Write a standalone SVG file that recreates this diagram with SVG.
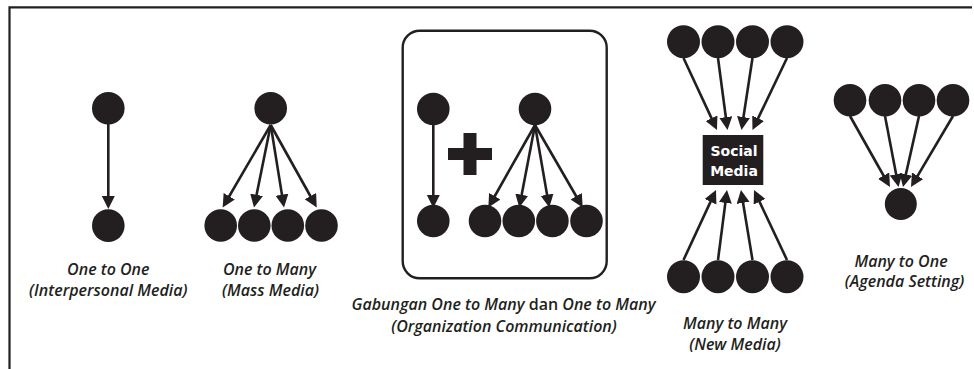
<svg xmlns="http://www.w3.org/2000/svg" width="974" height="369" viewBox="0 0 974 369">
<defs>
<style>
.n{fill:#231f20}
.c line{stroke:#231f20;stroke-width:2.6;marker-end:url(#ah)}
.cap{font-family:"Open Sans","Liberation Sans",sans-serif;font-style:italic;font-weight:600;font-size:16px;fill:#231f20;text-anchor:middle}
.up{font-style:normal}
.sm{font-family:"DejaVu Sans",Verdana,sans-serif;font-weight:bold;font-size:14px;fill:#fff;text-anchor:middle}
</style>
<marker id="ah" markerUnits="userSpaceOnUse" markerWidth="14" markerHeight="14" refX="9" refY="6.5" orient="auto">
<path d="M0,0 L13,6.5 L0,13 Z" fill="#231f20"/>
</marker>
</defs>
<rect width="974" height="369" fill="#fff"/>
<path d="M9.5,369 V7.3 H972" fill="none" stroke="#231f20" stroke-width="2.2"/>

<g id="connectors" class="c">
<line x1="108.3" y1="124" x2="108.3" y2="205"/>
<line x1="270.7" y1="125" x2="224.7" y2="204"/>
<line x1="270.7" y1="125" x2="254.8" y2="203.6"/>
<line x1="270.7" y1="125" x2="283.4" y2="203.6"/>
<line x1="270.7" y1="125" x2="314.8" y2="204"/>
<line x1="433.3" y1="125" x2="433.3" y2="204"/>
<line x1="535" y1="125" x2="490.3" y2="204"/>
<line x1="535" y1="125" x2="520" y2="203.6"/>
<line x1="535" y1="125" x2="548.6" y2="203.6"/>
<line x1="535" y1="125" x2="580.7" y2="204"/>
<line x1="683.5" y1="58" x2="715.3" y2="126.4"/>
<line x1="718" y1="58" x2="727" y2="126"/>
<line x1="752.5" y1="58" x2="742.1" y2="126"/>
<line x1="787" y1="58" x2="754.2" y2="126.4"/>
<line x1="683.5" y1="260" x2="714.3" y2="193.6"/>
<line x1="718" y1="260" x2="726.5" y2="194"/>
<line x1="752.5" y1="260" x2="741.6" y2="194"/>
<line x1="787" y1="260" x2="755.7" y2="193.6"/>
<line x1="850" y1="116" x2="888" y2="183.5"/>
<line x1="885" y1="116" x2="897.8" y2="183.1"/>
<line x1="919" y1="116" x2="903.9" y2="183.1"/>
<line x1="953" y1="116" x2="913" y2="183.6"/>
</g>

<g id="one-to-one">
<circle class="n" cx="108.3" cy="108.3" r="16.3"/>
<circle class="n" cx="108.3" cy="225.6" r="16.3"/>
<text class="cap" x="108.3" y="275">One to One</text>
<text class="cap" x="108.3" y="296">(Interpersonal Media)</text>
</g>

<g id="one-to-many">
<circle class="n" cx="270.7" cy="108.3" r="16.3"/>
<circle class="n" cx="220.7" cy="225.5" r="16.3"/>
<circle class="n" cx="254.3" cy="225.5" r="16.3"/>
<circle class="n" cx="287.8" cy="225.5" r="16.3"/>
<circle class="n" cx="321.5" cy="225.5" r="16.3"/>
<text class="cap" x="269.5" y="275">One to Many</text>
<text class="cap" x="270.5" y="296">(Mass Media)</text>
</g>

<g id="organization">
<rect x="402.7" y="30.7" width="204" height="247.6" rx="17" fill="none" stroke="#231f20" stroke-width="2.4"/>
<circle class="n" cx="433.3" cy="109" r="16.3"/>
<circle class="n" cx="433.3" cy="221" r="16.3"/>
<path class="n" d="M448,148 H463.5 V133 H476.5 V148 H492 V160 H476.5 V175 H463.5 V160 H448 Z"/>
<circle class="n" cx="535" cy="109" r="16.3"/>
<circle class="n" cx="485" cy="221" r="16.3"/>
<circle class="n" cx="518.8" cy="221" r="16.3"/>
<circle class="n" cx="552.4" cy="221" r="16.3"/>
<circle class="n" cx="586.5" cy="221" r="16.3"/>
<text class="cap" x="503.5" y="309.5">Gabungan One to Many<tspan class="up"> dan </tspan>One to Many</text>
<text class="cap" x="504" y="331.5">(Organization Communication)</text>
</g>

<g id="many-to-many">
<circle class="n" cx="683.5" cy="41.7" r="16.5"/>
<circle class="n" cx="718" cy="41.7" r="16.5"/>
<circle class="n" cx="752.5" cy="41.7" r="16.5"/>
<circle class="n" cx="787" cy="41.7" r="16.5"/>
<rect class="n" x="702.7" y="135" width="60.6" height="50"/>
<text class="sm" x="734" y="155.5">Social</text>
<text class="sm" x="734" y="175.5">Media</text>
<circle class="n" cx="683.5" cy="276.7" r="16.5"/>
<circle class="n" cx="718" cy="276.7" r="16.5"/>
<circle class="n" cx="752.5" cy="276.7" r="16.5"/>
<circle class="n" cx="787" cy="276.7" r="16.5"/>
<text class="cap" x="735" y="328.5">Many to Many</text>
<text class="cap" x="735" y="350">(New Media)</text>
</g>

<g id="many-to-one">
<circle class="n" cx="850" cy="100.3" r="16.3"/>
<circle class="n" cx="885" cy="100.3" r="16.3"/>
<circle class="n" cx="919" cy="100.3" r="16.3"/>
<circle class="n" cx="953" cy="100.3" r="16.3"/>
<circle class="n" cx="900.8" cy="204" r="16"/>
<text class="cap" x="901" y="266.5">Many to One</text>
<text class="cap" x="904.5" y="286.5">(Agenda Setting)</text>
</g>
</svg>
